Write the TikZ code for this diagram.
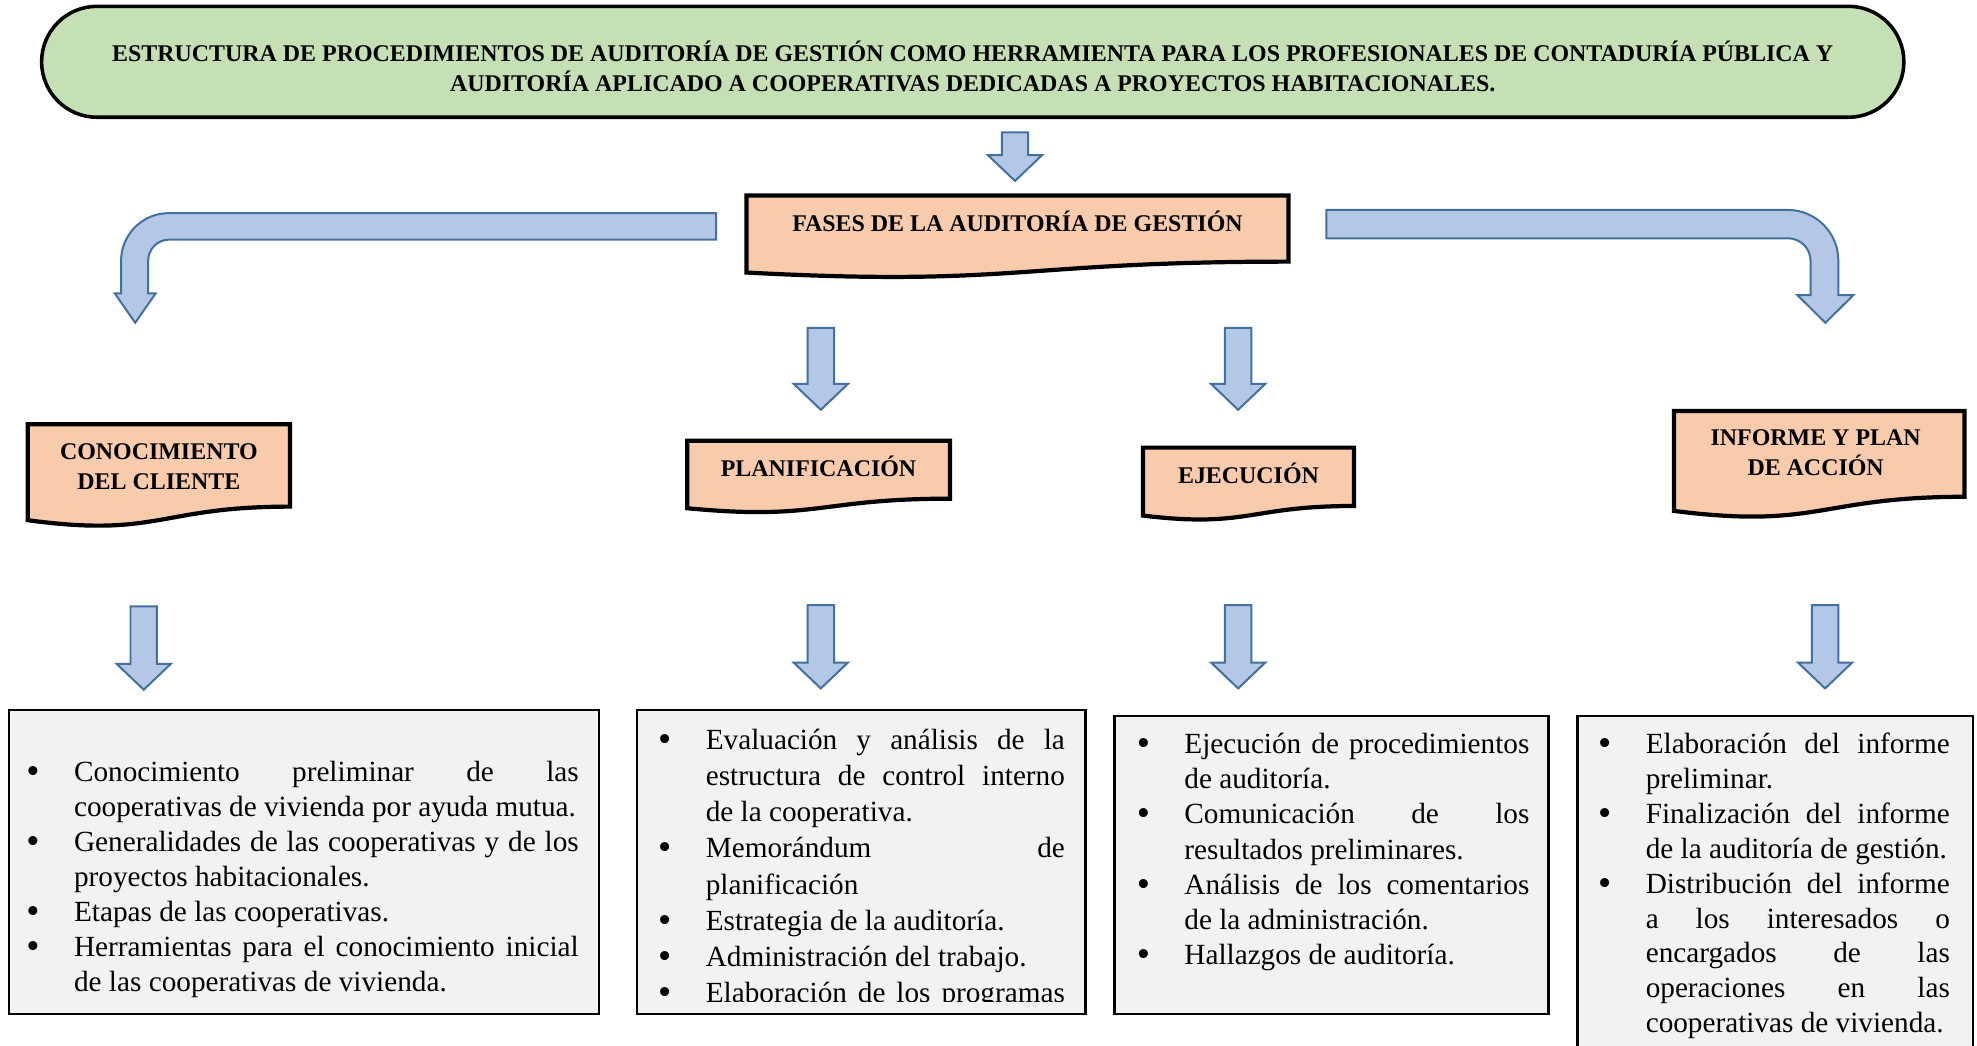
\documentclass[tikz,border=0pt]{standalone}
\usepackage{fontspec}
\setmainfont{Liberation Serif}
\usetikzlibrary{positioning,calc}

\definecolor{titlegreen}{HTML}{C5E0B4}
\definecolor{phaseorange}{HTML}{F8CBAD}
\definecolor{arrowfill}{HTML}{B4C7E7}
\definecolor{arrowline}{HTML}{41719C}
\definecolor{boxgray}{HTML}{F2F2F2}

\hyphenpenalty=10000
\exhyphenpenalty=10000
\tolerance=10000

\newdimen\unitpx
\unitpx=0.02cm

% bullet paragraph with hanging indent
\newcommand{\dotmark}{\raisebox{-0.9pt}{\fontsize{17}{17}\selectfont\textbullet}}
\newcommand{\itm}[1]{\hangindent=21.5pt\hangafter=1\noindent\makebox[21.5pt][l]{\dotmark}#1\par}

% straight block arrow pointing down, from a named coordinate
\newcommand{\blockdown}[2]{%
  \draw[blockarrow] (#1) ++(-10.5,0) -- ++(0,#2-20.5) -- ++(-11,0) -- ++(21.5,20.5)
    -- ++(21.5,-20.5) -- ++(-11,0) -- ++(0,20.5-#2) -- cycle;}

% document shape with wavy bottom: left, top, right, bottom of the straight part
\newcommand{\wavebox}[4]{%
  \draw[phaseline] (#1,#2) -- (#3,#2) -- (#3,#4)
    .. controls ({(#1+#3)/2},#4) and ({(#1+#3)/2},{#2+1.381*(#4-#2)})
    .. (#1,{#2+1.1646*(#4-#2)}) -- cycle;}

\begin{document}
\begin{tikzpicture}
  [x=0.02cm, y=-0.02cm,
  titleline/.style={draw=black, line width=1.6pt, fill=titlegreen,
    rounded corners=0.88cm},
  phasetext/.style={inner sep=0pt, align=center,
    font=\fontsize{10.8}{13.7}\selectfont\bfseries},
  phaseline/.style={draw=black, line width=1.9pt, fill=phaseorange},
  blockarrow/.style={draw=arrowline, line width=0.9pt, fill=arrowfill},
  infobox/.style={draw=black, line width=1.1pt, fill=boxgray},
  itemtext/.style={inner sep=0pt, outer sep=0pt, anchor=north west,
    align=justify, font=\fontsize{13.2}{#1}\selectfont}]

  \useasboundingbox (0,0) rectangle (1568,829);

  \draw[titleline] (33,5) rectangle (1510,93);
  \node[phasetext] (title) at (771.5,52.5)
    {ESTRUCTURA DE PROCEDIMIENTOS DE AUDITORÍA DE GESTIÓN COMO HERRAMIENTA PARA LOS PROFESIONALES DE CONTADURÍA PÚBLICA Y\\
     AUDITORÍA APLICADO A COOPERATIVAS DEDICADAS A PROYECTOS HABITACIONALES.};

  % phase boxes
  \wavebox{592}{155}{1022}{207.5}
  \wavebox{22}{336.5}{230}{401.8}
  \wavebox{545}{349.5}{753.5}{395.5}
  \wavebox{906.6}{355}{1073.8}{401.3}
  \wavebox{1327.6}{326}{1558}{394}

  \node[phasetext] (fases) at (807,175.5) {FASES DE LA AUDITORÍA DE GESTIÓN};
  \node[phasetext] (cliente) at (126,370) {CONOCIMIENTO\\DEL CLIENTE};
  \node[phasetext] (plan) at (649.2,369.7) {PLANIFICACIÓN};
  \node[phasetext] (ejec) at (990.2,375.7) {EJECUCIÓN};
  \node[phasetext] (informe) at (1440,359) {INFORME Y PLAN\\DE ACCIÓN};

  % arrows
  \coordinate (titlearrow) at (805,105);
  \coordinate (planarrow) at (651,260);
  \coordinate (ejecarrow) at (982,260);
  \coordinate (clientedown) at (114,481);
  \coordinate (plandown) at (651,480);
  \coordinate (ejecdown) at (982,480);
  \coordinate (informedown) at (1447.5,480);

  \blockdown{titlearrow}{38.5}
  \blockdown{planarrow}{65}
  \blockdown{ejecarrow}{65}
  \blockdown{clientedown}{66}
  \blockdown{plandown}{66}
  \blockdown{ejecdown}{66}
  \blockdown{informedown}{66}

  \draw[blockarrow] (568,169) -- (134,169) .. controls (113,169) and (96,186) .. (96,207)
    -- (96,232.6) -- (91,232.6) -- (107.25,256) -- (123.5,232.6) -- (117.5,232.6) -- (117.5,207)
    .. controls (117.5,197.6) and (124.9,190) .. (134.5,190) -- (568,190) -- cycle;
  \draw[blockarrow] (1052,166.5) -- (1418,166.5) .. controls (1440,166.5) and (1458,184.5) .. (1458,206.5)
    -- (1458,234) -- (1470,234) -- (1447.75,256) -- (1425.5,234) -- (1436,234) -- (1436,207)
    .. controls (1436,197) and (1428,189) .. (1418,189) -- (1052,189) -- cycle;

  % detail boxes
  \draw[infobox] (7,563) rectangle (475,804);
  \draw[infobox] (505,563) rectangle (861,804);
  \draw[infobox] (884,568) rectangle (1228,804);
  \draw[infobox] (1251,568) rectangle (1565,850);

  \node[itemtext=15.8pt, text width=438\unitpx] (clientetext) at (21,604) {%
    \itm{Conocimiento preliminar de las\linebreak cooperativas de vivienda por ayuda mutua.}
    \itm{Generalidades de las cooperativas y de los\linebreak proyectos habitacionales.}
    \itm{Etapas de las cooperativas.}
    \itm{Herramientas para el conocimiento inicial\linebreak de las cooperativas de vivienda.}};

  \begin{scope}
    \clip (505,563) rectangle (861,794.5);
    \node[itemtext=16.3pt, text width=322.6\unitpx] (plantext) at (522,578.4) {%
      \itm{Evaluación y análisis de la\linebreak estructura de control interno\linebreak de la cooperativa.}
      \itm{Memorándum de\linebreak planificación}
      \itm{Estrategia de la auditoría.}
      \itm{Administración del trabajo.}
      \itm{\parfillskip=0pt Elaboración de los programas}};
  \end{scope}

  \node[itemtext=15.9pt, text width=311.4\unitpx] (ejectext) at (901.6,581.4) {%
    \itm{Ejecución de procedimientos\linebreak de auditoría.}
    \itm{Comunicación de los\linebreak resultados preliminares.}
    \itm{Análisis de los comentarios\linebreak de la administración.}
    \itm{Hallazgos de auditoría.}};

  \node[itemtext=15.75pt, text width=279\unitpx] (informetext) at (1267.5,581.4) {%
    \itm{Elaboración del informe\linebreak preliminar.}
    \itm{Finalización del informe\linebreak de la auditoría de gestión.}
    \itm{Distribución del informe\linebreak a los interesados o\linebreak encargados de las\linebreak operaciones en las\linebreak cooperativas de vivienda.}};

\end{tikzpicture}
\end{document}
